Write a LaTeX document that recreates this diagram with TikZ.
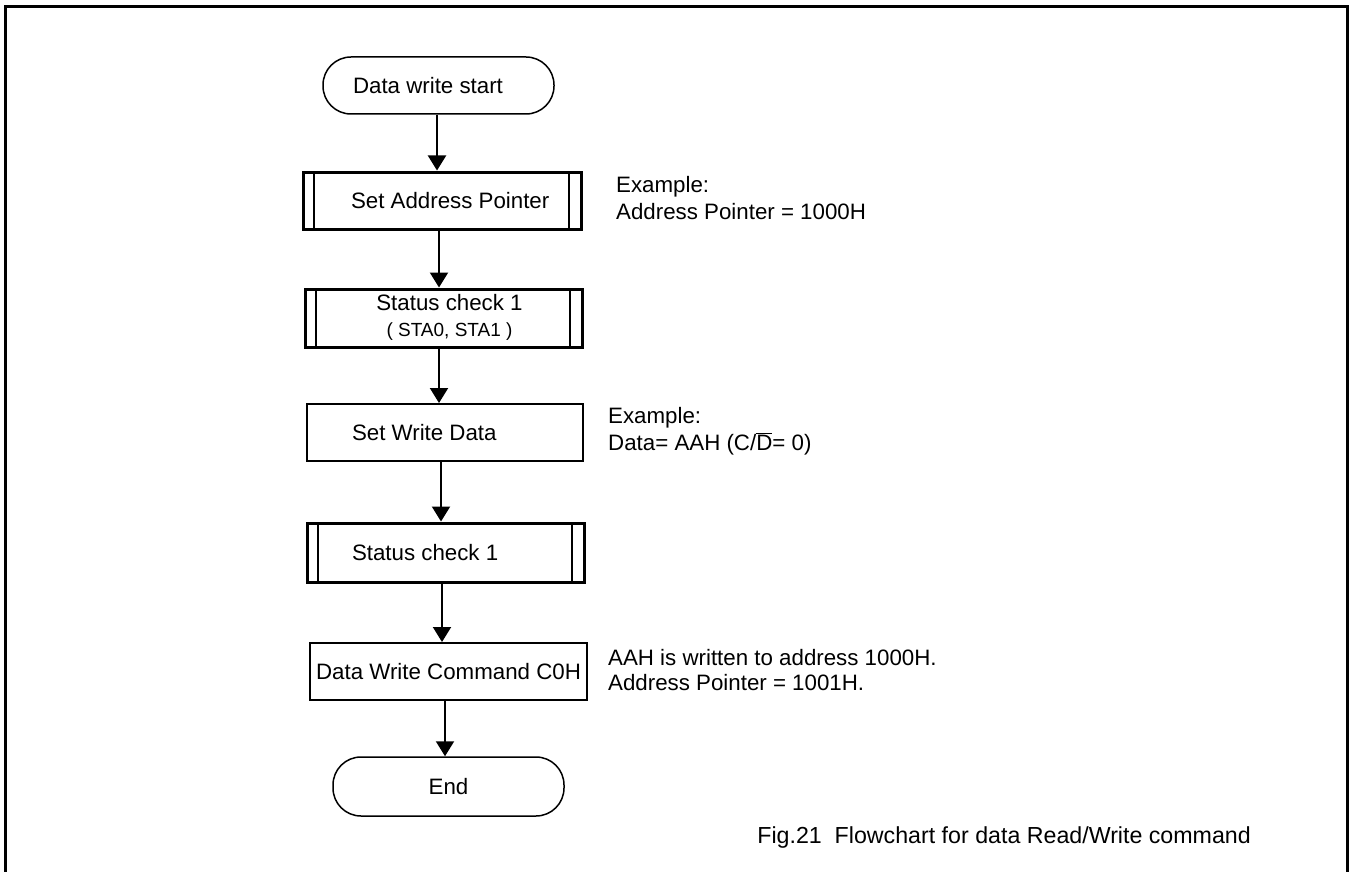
\documentclass[tikz,border=0pt]{standalone}
\usepackage{fontspec}
\setmainfont{Liberation Sans}
\usetikzlibrary{arrows.meta}
\begin{document}
\begin{tikzpicture}[x=1pt,y=-1pt,
  every node/.style={font=\fontsize{22.3}{26}\selectfont, inner sep=0pt},
  term/.style={draw, line width=1.5pt, rounded corners=28pt},
  plainbox/.style={draw, line width=2pt},
  subproc/.style={draw, line width=3pt, path picture={
     \draw[line width=2pt] ([xshift=11pt]path picture bounding box.north west) -- ([xshift=11pt]path picture bounding box.south west);
     \draw[line width=2pt] ([xshift=-12pt]path picture bounding box.north east) -- ([xshift=-12pt]path picture bounding box.south east);}},
  arr/.style={line width=2pt, -{Triangle[width=18pt,length=15pt]}},
  note/.style={anchor=base west},
]
\clip (0,0) rectangle (1352,872);
\fill[white] (0,0) rectangle (1352,872);
\draw[line width=3pt] (5.3,900) -- (5.3,7) -- (1347.7,7) -- (1347.7,900);

\node[term, minimum width=231pt, minimum height=57pt] (start) at (438.5,85.5)
  {\makebox[231pt][l]{\hspace*{30pt}Data write start}};
\node[subproc, minimum width=278pt, minimum height=57pt] (b1) at (442,200.5)
  {\makebox[278pt][l]{\hspace*{48pt}Set Address Pointer}};
\node[subproc, minimum width=277pt, minimum height=58pt] (s1) at (443.5,318)
  {\makebox[277pt]{\hspace*{12pt}\begin{tabular}{@{}c@{}}Status check 1\\{\fontsize{19}{22}\selectfont ( STA0, STA1 )}\end{tabular}}};
\node[plainbox, minimum width=276pt, minimum height=57pt] (sw) at (445,432.5)
  {\makebox[276pt][l]{\hspace*{45pt}Set Write Data}};
\node[subproc, minimum width=277pt, minimum height=59pt] (s2) at (445.5,552.5)
  {\makebox[277pt][l]{\hspace*{45pt}Status check 1}};
\node[plainbox, minimum width=277pt, minimum height=57pt] (dwc) at (448.5,671.5)
  {\makebox[277pt]{Data Write Command C0H}};
\node[term, minimum width=231pt, minimum height=59pt] (end) at (448.5,786.5)
  {\makebox[231pt]{End}};

\draw[arr] ([xshift=-1.5pt]start.south) -- ([xshift=-1.5pt]start.south |- b1.north);
\draw[arr] ([xshift=-3pt]b1.south) -- ([xshift=-3pt]b1.south |- s1.north);
\draw[arr] ([xshift=-4.5pt]s1.south) -- ([xshift=-4.5pt]s1.south |- sw.north);
\draw[arr] ([xshift=-4pt]sw.south) -- ([xshift=-4pt]sw.south |- s2.north);
\draw[arr] ([xshift=-3.5pt]s2.south) -- ([xshift=-3.5pt]s2.south |- dwc.north);
\draw[arr] ([xshift=-3.5pt]dwc.south) -- ([xshift=-3.5pt]dwc.south |- end.north);

\node[note] (n1a) at (616,192) {Example:};
\node[note] (n1b) at (616,219) {Address Pointer = 1000H};
\node[note] (n2a) at (608,423) {Example:};
\node[note] (n2b) at (608,450) {Data= AAH (C/$\overline{\hbox{D}}$= 0)};
\node[note] (n3a) at (608,665) {AAH is written to address 1000H.};
\node[note] (n3b) at (608,690) {Address Pointer = 1001H.};
\node[anchor=base east, font=\fontsize{23.2}{27}\selectfont] (cap) at (1251,843)
  {Fig.21\ \ Flowchart for data Read/Write command};
\end{tikzpicture}
\end{document}
